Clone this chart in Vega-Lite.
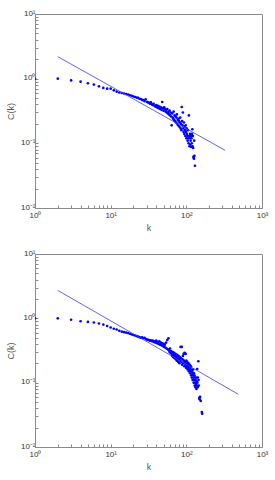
{
  "$schema": "https://vega.github.io/schema/vega-lite/v6.json",
  "padding": {"left": 5, "top": 8, "right": 5, "bottom": 5},
  "background": "white",
  "bounds": "flush",
  "spacing": 46,
  "datasets": {
    "A": [
      {"k":1,"C":1.0},{"k":2,"C":1.0},{"k":3,"C":0.94},{"k":4,"C":0.90},{"k":5,"C":0.85},{"k":6,"C":0.81},{"k":7,"C":0.76},{"k":8,"C":0.72},{"k":9,"C":0.70},{"k":10,"C":0.70},
      {"k":11,"C":0.66},{"k":12,"C":0.63},{"k":13,"C":0.61},{"k":14,"C":0.60},{"k":15,"C":0.59},{"k":16,"C":0.58},{"k":17,"C":0.57},{"k":18,"C":0.555},{"k":19,"C":0.545},{"k":20,"C":0.53},
      {"k":21,"C":0.52},{"k":22,"C":0.51},{"k":23,"C":0.505},{"k":24,"C":0.49},{"k":25,"C":0.485},{"k":26,"C":0.47},{"k":27,"C":0.465},{"k":28,"C":0.45},{"k":29,"C":0.48},{"k":30,"C":0.44},
      {"k":31,"C":0.43},{"k":32,"C":0.425},{"k":33,"C":0.41},{"k":34,"C":0.43},{"k":35,"C":0.40},{"k":36,"C":0.39},{"k":37,"C":0.41},{"k":38,"C":0.38},{"k":39,"C":0.37},{"k":40,"C":0.39},
      {"k":41,"C":0.36},{"k":42,"C":0.38},{"k":43,"C":0.35},{"k":44,"C":0.37},{"k":45,"C":0.34},{"k":46,"C":0.36},{"k":47,"C":0.33},{"k":48,"C":0.435},{"k":49,"C":0.35},{"k":50,"C":0.32},
      {"k":51,"C":0.36},{"k":52,"C":0.34},{"k":53,"C":0.31},{"k":54,"C":0.33},{"k":55,"C":0.30},{"k":56,"C":0.34},{"k":57,"C":0.29},{"k":58,"C":0.31},{"k":59,"C":0.28},{"k":60,"C":0.32},
      {"k":61,"C":0.27},{"k":62,"C":0.30},{"k":63,"C":0.26},{"k":64,"C":0.19},{"k":65,"C":0.29},{"k":66,"C":0.25},{"k":67,"C":0.24},{"k":68,"C":0.31},{"k":69,"C":0.23},{"k":70,"C":0.27},
      {"k":71,"C":0.22},{"k":72,"C":0.26},{"k":73,"C":0.21},{"k":74,"C":0.25},{"k":75,"C":0.28},{"k":76,"C":0.20},{"k":77,"C":0.23},{"k":78,"C":0.19},{"k":79,"C":0.24},{"k":80,"C":0.22},
      {"k":81,"C":0.18},{"k":82,"C":0.21},{"k":83,"C":0.25},{"k":84,"C":0.17},{"k":85,"C":0.20},{"k":86,"C":0.16},{"k":87,"C":0.365},{"k":88,"C":0.22},{"k":89,"C":0.19},{"k":90,"C":0.30},
      {"k":91,"C":0.17},{"k":92,"C":0.15},{"k":93,"C":0.21},{"k":94,"C":0.14},{"k":95,"C":0.18},{"k":96,"C":0.16},{"k":97,"C":0.13},{"k":98,"C":0.19},{"k":99,"C":0.15},{"k":100,"C":0.12},
      {"k":101,"C":0.17},{"k":102,"C":0.14},{"k":103,"C":0.13},{"k":104,"C":0.11},{"k":105,"C":0.16},{"k":106,"C":0.12},{"k":107,"C":0.10},{"k":108,"C":0.27},{"k":109,"C":0.13},{"k":110,"C":0.09},
      {"k":111,"C":0.12},{"k":112,"C":0.14},{"k":113,"C":0.095},{"k":114,"C":0.11},{"k":115,"C":0.13},{"k":116,"C":0.088},{"k":117,"C":0.12},{"k":118,"C":0.10},{"k":119,"C":0.14},{"k":120,"C":0.165},
      {"k":121,"C":0.09},{"k":122,"C":0.13},{"k":123,"C":0.085},{"k":124,"C":0.062},{"k":125,"C":0.06},{"k":126,"C":0.058},{"k":127,"C":0.11},{"k":128,"C":0.064},{"k":130,"C":0.045}
    ],
    "B": [
      {"k":1,"C":1.0},{"k":2,"C":1.0},{"k":3,"C":0.95},{"k":4,"C":0.90},{"k":5,"C":0.88},{"k":6,"C":0.86},{"k":7,"C":0.83},{"k":8,"C":0.80},{"k":9,"C":0.76},{"k":10,"C":0.72},
      {"k":11,"C":0.69},{"k":12,"C":0.67},{"k":13,"C":0.64},{"k":14,"C":0.62},{"k":15,"C":0.61},{"k":16,"C":0.60},{"k":17,"C":0.59},{"k":18,"C":0.575},{"k":19,"C":0.56},{"k":20,"C":0.55},
      {"k":21,"C":0.54},{"k":22,"C":0.53},{"k":23,"C":0.52},{"k":24,"C":0.51},{"k":25,"C":0.50},{"k":26,"C":0.505},{"k":27,"C":0.49},{"k":28,"C":0.50},{"k":29,"C":0.48},{"k":30,"C":0.47},
      {"k":31,"C":0.465},{"k":32,"C":0.46},{"k":33,"C":0.45},{"k":34,"C":0.455},{"k":35,"C":0.44},{"k":36,"C":0.45},{"k":37,"C":0.43},{"k":38,"C":0.44},{"k":39,"C":0.42},{"k":40,"C":0.45},
      {"k":41,"C":0.41},{"k":42,"C":0.43},{"k":43,"C":0.40},{"k":44,"C":0.44},{"k":45,"C":0.39},{"k":46,"C":0.42},{"k":47,"C":0.38},{"k":48,"C":0.41},{"k":49,"C":0.37},{"k":50,"C":0.40},
      {"k":51,"C":0.36},{"k":52,"C":0.39},{"k":53,"C":0.35},{"k":54,"C":0.42},{"k":55,"C":0.34},{"k":56,"C":0.46},{"k":57,"C":0.33},{"k":58,"C":0.49},{"k":59,"C":0.32},{"k":60,"C":0.30},
      {"k":61,"C":0.34},{"k":62,"C":0.29},{"k":63,"C":0.31},{"k":64,"C":0.28},{"k":65,"C":0.26},{"k":66,"C":0.30},{"k":67,"C":0.25},{"k":68,"C":0.27},{"k":69,"C":0.29},{"k":70,"C":0.24},
      {"k":71,"C":0.26},{"k":72,"C":0.28},{"k":73,"C":0.23},{"k":74,"C":0.25},{"k":75,"C":0.22},{"k":76,"C":0.27},{"k":77,"C":0.24},{"k":78,"C":0.21},{"k":79,"C":0.26},{"k":80,"C":0.23},
      {"k":81,"C":0.20},{"k":82,"C":0.25},{"k":83,"C":0.22},{"k":84,"C":0.36},{"k":85,"C":0.24},{"k":86,"C":0.21},{"k":87,"C":0.36},{"k":88,"C":0.19},{"k":89,"C":0.23},{"k":90,"C":0.26},
      {"k":91,"C":0.20},{"k":92,"C":0.28},{"k":93,"C":0.22},{"k":94,"C":0.18},{"k":95,"C":0.29},{"k":96,"C":0.21},{"k":97,"C":0.19},{"k":98,"C":0.28},{"k":99,"C":0.17},{"k":100,"C":0.22},
      {"k":101,"C":0.20},{"k":102,"C":0.18},{"k":103,"C":0.21},{"k":104,"C":0.16},{"k":105,"C":0.19},{"k":106,"C":0.17},{"k":107,"C":0.20},{"k":108,"C":0.15},{"k":109,"C":0.18},{"k":110,"C":0.16},
      {"k":111,"C":0.19},{"k":112,"C":0.14},{"k":113,"C":0.17},{"k":114,"C":0.15},{"k":115,"C":0.18},{"k":116,"C":0.13},{"k":117,"C":0.16},{"k":118,"C":0.12},{"k":119,"C":0.15},{"k":120,"C":0.14},
      {"k":121,"C":0.11},{"k":122,"C":0.13},{"k":123,"C":0.16},{"k":124,"C":0.12},{"k":125,"C":0.10},{"k":126,"C":0.14},{"k":127,"C":0.11},{"k":128,"C":0.13},{"k":129,"C":0.09},{"k":130,"C":0.12},
      {"k":131,"C":0.10},{"k":132,"C":0.085},{"k":133,"C":0.11},{"k":134,"C":0.095},{"k":135,"C":0.12},{"k":136,"C":0.08},{"k":137,"C":0.105},{"k":138,"C":0.09},{"k":139,"C":0.163},{"k":140,"C":0.10},
      {"k":141,"C":0.085},{"k":142,"C":0.12},{"k":144,"C":0.215},{"k":145,"C":0.11},{"k":146,"C":0.09},{"k":148,"C":0.058},{"k":150,"C":0.055},{"k":152,"C":0.06},{"k":155,"C":0.052},{"k":160,"C":0.035},{"k":162,"C":0.033}
    ],
    "LA": [{"k":2,"C":2.19},{"k":325,"C":0.078}],
    "LB": [{"k":2,"C":2.72},{"k":486,"C":0.066}]
  },
  "config": {
    "view": {"stroke": "#8a8a8a", "strokeWidth": 1},
    "axis": {
      "domainColor": "#8a8a8a", "tickColor": "#8a8a8a", "tickSize": -3, "grid": false,
      "labelColor": "#333333", "titleColor": "#555555",
      "labelFont": "Liberation Sans", "titleFont": "Liberation Sans",
      "labelFontSize": 8, "titleFontSize": 9, "titleFontWeight": "normal"
    },
    "axisX": {"labelPadding": 6, "titlePadding": 4},
    "axisY": {"labelPadding": 3, "titlePadding": 5, "labelOffset": -1}
  },
  "vconcat": [
    {
      "width": 227, "height": 194,
      "layer": [
        {
          "data": {"name": "A"},
          "mark": {"type": "circle", "color": "#0000ff", "opacity": 1, "size": 7, "clip": true},
          "encoding": {
            "x": {"field": "k", "type": "quantitative", "scale": {"type": "log", "domain": [1, 1000], "nice": false},
              "axis": {"values": [1,2,3,4,5,6,7,8,9,10,20,30,40,50,60,70,80,90,100,200,300,400,500,600,700,800,900,1000],
                "labelExpr": "datum.value == 1 ? '10⁰' : datum.value == 10 ? '10¹' : datum.value == 100 ? '10²' : datum.value == 1000 ? '10³' : ''",
                "title": "k", "labelFlush": false, "labelOverlap": false}},
            "y": {"field": "C", "type": "quantitative", "scale": {"type": "log", "domain": [0.01, 10], "nice": false},
              "axis": {"values": [0.01,0.02,0.03,0.04,0.05,0.06,0.07,0.08,0.09,0.1,0.2,0.3,0.4,0.5,0.6,0.7,0.8,0.9,1,2,3,4,5,6,7,8,9,10],
                "labelExpr": "datum.value == 0.01 ? '10⁻²' : datum.value == 0.1 ? '10⁻¹' : datum.value == 1 ? '10⁰' : datum.value == 10 ? '10¹' : ''",
                "title": "C(k)", "labelFlush": false, "labelOverlap": false}}
          }
        },
        {
          "data": {"name": "LA"},
          "mark": {"type": "line", "color": "#3a3aff", "strokeWidth": 0.8},
          "encoding": {
            "x": {"field": "k", "type": "quantitative"},
            "y": {"field": "C", "type": "quantitative"}
          }
        }
      ]
    },
    {
      "width": 227, "height": 193,
      "layer": [
        {
          "data": {"name": "B"},
          "mark": {"type": "circle", "color": "#0000ff", "opacity": 1, "size": 7, "clip": true},
          "encoding": {
            "x": {"field": "k", "type": "quantitative", "scale": {"type": "log", "domain": [1, 1000], "nice": false},
              "axis": {"values": [1,2,3,4,5,6,7,8,9,10,20,30,40,50,60,70,80,90,100,200,300,400,500,600,700,800,900,1000],
                "labelExpr": "datum.value == 1 ? '10⁰' : datum.value == 10 ? '10¹' : datum.value == 100 ? '10²' : datum.value == 1000 ? '10³' : ''",
                "title": "k", "labelFlush": false, "labelOverlap": false}},
            "y": {"field": "C", "type": "quantitative", "scale": {"type": "log", "domain": [0.01, 10], "nice": false},
              "axis": {"values": [0.01,0.02,0.03,0.04,0.05,0.06,0.07,0.08,0.09,0.1,0.2,0.3,0.4,0.5,0.6,0.7,0.8,0.9,1,2,3,4,5,6,7,8,9,10],
                "labelExpr": "datum.value == 0.01 ? '10⁻²' : datum.value == 0.1 ? '10⁻¹' : datum.value == 1 ? '10⁰' : datum.value == 10 ? '10¹' : ''",
                "title": "C(k)", "labelFlush": false, "labelOverlap": false}}
          }
        },
        {
          "data": {"name": "LB"},
          "mark": {"type": "line", "color": "#3a3aff", "strokeWidth": 0.8},
          "encoding": {
            "x": {"field": "k", "type": "quantitative"},
            "y": {"field": "C", "type": "quantitative"}
          }
        }
      ]
    }
  ]
}
